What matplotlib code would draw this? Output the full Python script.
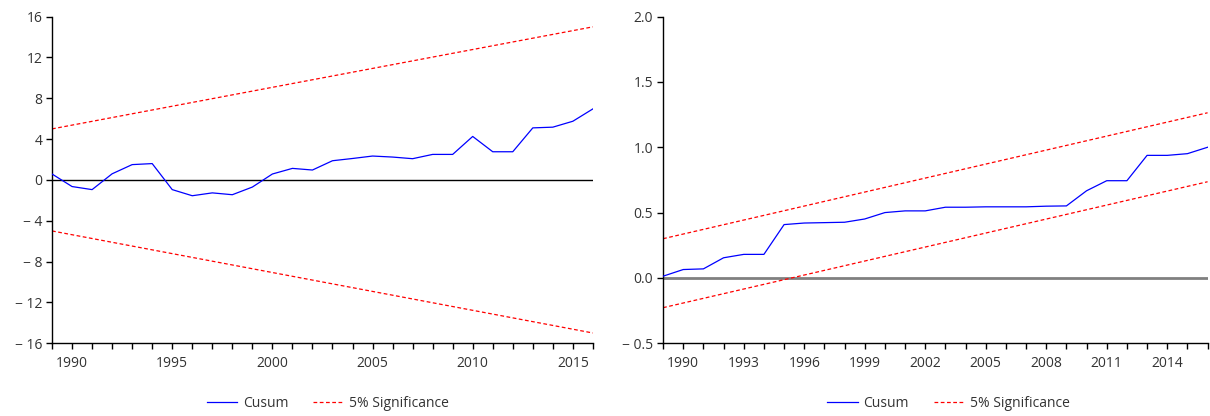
import matplotlib
matplotlib.use("Agg")
import matplotlib.pyplot as plt
from matplotlib.ticker import FixedLocator, MultipleLocator

plt.rcParams['font.family'] = ['Open Sans', 'DejaVu Sans']

years = list(range(1989, 2017))

cusum = [0.58, -0.65, -0.95, 0.60, 1.50, 1.60, -0.95, -1.55, -1.27, -1.45,
         -0.70, 0.58, 1.13, 0.97, 1.88, 2.10, 2.34, 2.24, 2.08, 2.50,
         2.50, 4.26, 2.76, 2.76, 5.10, 5.17, 5.75, 6.96]

cusum_sq = [0.013, 0.064, 0.069, 0.154, 0.180, 0.180, 0.408, 0.420, 0.423, 0.426,
            0.451, 0.500, 0.513, 0.513, 0.541, 0.541, 0.544, 0.544, 0.544, 0.549,
            0.551, 0.667, 0.744, 0.744, 0.938, 0.938, 0.951, 1.000]

sig_years = [1989, 2016]
cusum_upper = [5.0, 15.0]
cusum_lower = [-5.0, -15.0]
sq_upper = [0.300, 1.264]
sq_lower = [-0.228, 0.736]

left_yticks = [16, 12, 8, 4, 0, -4, -8, -12, -16]
right_yticks = [2.0, 1.5, 1.0, 0.5, 0.0, -0.5]
left_xticks = [1990, 1995, 2000, 2005, 2010, 2015]
right_xticks = [1990, 1993, 1996, 1999, 2002, 2005, 2008, 2011, 2014]

BLUE = '#0000ff'
RED = '#ff0000'
TXT = '#333333'

fig = plt.figure(figsize=(12.10, 4.16), dpi=100)
ax1 = fig.add_axes([0.043, 0.175, 0.447, 0.785])
ax2 = fig.add_axes([0.548, 0.175, 0.450, 0.785])


def fmt(v, dec):
    s = f"{abs(v):.{dec}f}"
    return ("\u2212 " + s) if v < 0 else s


def style(ax, yticks, xticks, dec):
    for sp in ['top', 'right']:
        ax.spines[sp].set_visible(False)
    for sp in ['left', 'bottom']:
        ax.spines[sp].set_color('black')
        ax.spines[sp].set_linewidth(1.0)
    ax.set_xlim(1989, 2016)
    ax.set_ylim(min(yticks), max(yticks))
    ax.set_yticks(yticks)
    ax.set_yticklabels([fmt(v, dec) for v in yticks])
    ax.set_xticks(xticks)
    ax.set_xticklabels([str(x) for x in xticks])
    ax.xaxis.set_minor_locator(MultipleLocator(1))
    ax.tick_params(axis='both', which='major', direction='out', length=4,
                   width=1, color='black', labelsize=10, labelcolor=TXT, pad=3)
    ax.tick_params(axis='x', which='minor', direction='out', length=4,
                   width=1, color='black')
    ax.tick_params(axis='x', which='major', pad=5)


# Left: CUSUM
ax1.axhline(0, color='black', lw=1.0, zorder=1)
l1, = ax1.plot(years, cusum, color=BLUE, lw=0.9, label='Cusum', zorder=3)
l2, = ax1.plot(sig_years, cusum_upper, color=RED, lw=0.9, dashes=(3, 2),
               label='5% Significance', zorder=2)
ax1.plot(sig_years, cusum_lower, color=RED, lw=0.9, dashes=(3, 2), zorder=2)
style(ax1, left_yticks, left_xticks, 0)

# Right: CUSUM of squares
ax2.axhline(0, color='#808080', lw=2.0, zorder=1)
r1, = ax2.plot(years, cusum_sq, color=BLUE, lw=0.9, label='Cusum', zorder=3)
r2, = ax2.plot(sig_years, sq_upper, color=RED, lw=0.9, dashes=(3, 2),
               label='5% Significance', zorder=2)
ax2.plot(sig_years, sq_lower, color=RED, lw=0.9, dashes=(3, 2), zorder=2)
style(ax2, right_yticks, right_xticks, 1)

for ax, cx in [(ax1, 0.271), (ax2, 0.784)]:
    ax.legend(loc='center', bbox_to_anchor=(cx, 0.030),
              bbox_transform=fig.transFigure, ncol=2, frameon=False,
              fontsize=10, handlelength=2.2, handletextpad=0.4,
              columnspacing=1.8, labelcolor=TXT)

fig.savefig('out.png', dpi=100)
